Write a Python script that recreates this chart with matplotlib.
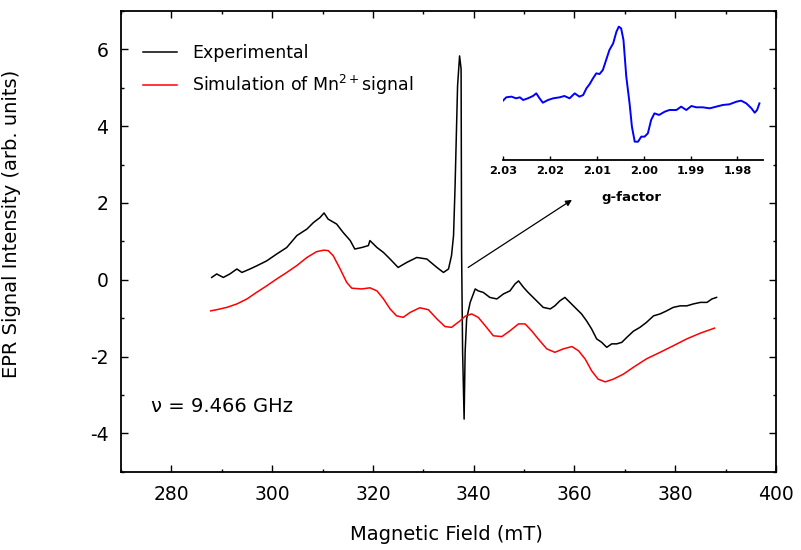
import matplotlib
matplotlib.use("Agg")
import matplotlib.pyplot as plt
from matplotlib.ticker import MultipleLocator, FixedLocator

plt.rcParams['font.family'] = ['DejaVu Sans']
plt.rcParams['mathtext.default'] = 'regular'
plt.rcParams['axes.unicode_minus'] = False

# Experimental EPR spectrum (magnetic field in mT, intensity in arb. units)
exp_field = [288.0, 289.0, 290.3, 291.6, 293.0, 294.0, 295.6, 296.9, 298.9, 300.9,
             302.9, 304.9, 306.9, 308.2, 309.5, 310.3, 311.1, 312.8, 314.1, 315.5,
             316.4, 317.8, 319.1, 319.4, 320.8, 322.1, 323.4, 325.0, 326.7, 328.7,
             330.7, 332.7, 334.0, 335.0, 335.6, 336.0, 336.3, 336.8, 337.2, 337.5,
             337.6, 337.8, 338.1, 338.3, 338.6, 339.3, 340.3, 340.9, 341.9, 343.2,
             344.6, 345.9, 347.2, 348.2, 348.9, 349.9, 350.8, 351.8, 352.8, 353.8,
             355.2, 356.1, 357.1, 358.1, 359.1, 360.4, 361.4, 362.4, 363.4, 364.4,
             365.4, 366.4, 367.4, 368.4, 369.4, 370.4, 371.7, 373.0, 374.3, 375.7,
             377.0, 378.3, 379.6, 381.0, 382.3, 383.6, 385.0, 386.3, 387.3, 388.2]
exp_signal = [0.06, 0.15, 0.06, 0.15, 0.28, 0.19, 0.28, 0.36, 0.49, 0.67,
              0.84, 1.15, 1.32, 1.49, 1.62, 1.74, 1.58, 1.45, 1.23, 1.02,
              0.80, 0.84, 0.89, 1.02, 0.84, 0.71, 0.54, 0.32, 0.45, 0.58,
              0.54, 0.32, 0.19, 0.28, 0.63, 1.15, 2.41, 5.05, 5.83, 5.49,
              0.71, -1.88, -3.63, -1.88, -1.02, -0.59, -0.24, -0.29, -0.33, -0.46,
              -0.50, -0.37, -0.29, -0.11, -0.03, -0.20, -0.33, -0.46, -0.59, -0.72,
              -0.76, -0.68, -0.55, -0.46, -0.59, -0.76, -0.89, -1.07, -1.28, -1.54,
              -1.63, -1.76, -1.67, -1.67, -1.63, -1.50, -1.34, -1.24, -1.11, -0.94,
              -0.89, -0.81, -0.72, -0.68, -0.68, -0.63, -0.59, -0.59, -0.50, -0.46]

# Simulated Mn2+ hyperfine sextet
sim_field = [287.8, 289.0, 291.0, 293.0, 295.0, 296.9, 298.9, 300.9, 302.9, 304.9,
             306.9, 308.8, 310.2, 311.1, 312.1, 313.5, 314.8, 315.8, 317.8, 319.4,
             320.8, 322.1, 323.4, 324.7, 326.0, 327.4, 329.3, 331.0, 332.7, 334.3,
             335.6, 337.3, 338.3, 339.6, 340.9, 342.3, 343.9, 345.6, 347.2, 348.9,
             350.2, 351.5, 352.8, 354.5, 356.1, 357.8, 359.5, 360.8, 362.1, 363.4,
             364.7, 366.1, 367.7, 369.7, 371.7, 374.3, 377.0, 379.6, 382.3, 385.0,
             387.8]
sim_signal = [-0.81, -0.78, -0.72, -0.63, -0.50, -0.33, -0.16, 0.02, 0.19, 0.37,
              0.58, 0.73, 0.77, 0.76, 0.63, 0.28, -0.07, -0.22, -0.24, -0.21,
              -0.29, -0.50, -0.76, -0.94, -0.98, -0.85, -0.73, -0.78, -1.02, -1.22,
              -1.24, -1.07, -0.95, -0.89, -0.98, -1.20, -1.46, -1.48, -1.33, -1.15,
              -1.15, -1.33, -1.54, -1.80, -1.89, -1.80, -1.74, -1.85, -2.06, -2.37,
              -2.59, -2.66, -2.59, -2.46, -2.28, -2.06, -1.89, -1.72, -1.54, -1.39,
              -1.26]

# Expanded view of the central line on a g-factor scale
g_factor = [2.0300, 2.0293, 2.0282, 2.0272, 2.0264, 2.0257, 2.0247, 2.0236, 2.0229, 2.0222,
            2.0215, 2.0204, 2.0193, 2.0179, 2.0169, 2.0158, 2.0147, 2.0137, 2.0129, 2.0122,
            2.0115, 2.0108, 2.0101, 2.0094, 2.0087, 2.0080, 2.0073, 2.0065, 2.0058, 2.0053,
            2.0048, 2.0043, 2.0037, 2.0030, 2.0025, 2.0019, 2.0012, 2.0005, 1.9998, 1.9991,
            1.9984, 1.9977, 1.9967, 1.9955, 1.9945, 1.9930, 1.9920, 1.9909, 1.9898, 1.9888,
            1.9874, 1.9859, 1.9845, 1.9831, 1.9817, 1.9802, 1.9792, 1.9781, 1.9770, 1.9763,
            1.9758, 1.9753]
g_signal = [-0.009, 0.037, 0.046, 0.023, 0.037, 0.0, 0.023, 0.055, 0.091, 0.023,
            -0.037, 0.0, 0.023, 0.037, 0.055, 0.023, 0.091, 0.046, 0.068, 0.160,
            0.219, 0.297, 0.365, 0.356, 0.411, 0.548, 0.685, 0.776, 0.936, 1.005,
            0.982, 0.822, 0.320, -0.046, -0.365, -0.571, -0.571, -0.502, -0.502, -0.457,
            -0.274, -0.183, -0.205, -0.160, -0.137, -0.137, -0.091, -0.137, -0.082, -0.100,
            -0.100, -0.114, -0.091, -0.068, -0.059, -0.023, -0.009, -0.046, -0.114, -0.174,
            -0.137, -0.046]

x_ticks = [280, 300, 320, 340, 360, 380, 400]
y_ticks = [-4, -2, 0, 2, 4, 6]
g_ticks = [2.03, 2.02, 2.01, 2.00, 1.99, 1.98]
g_ticklabels = ['2.03', '2.02', '2.01', '2.00', '1.99', '1.98']

fig = plt.figure(figsize=(8.01, 5.5), dpi=100)
ax = fig.add_axes([121 / 801, 1 - 471.7 / 550, 655 / 801, 460.7 / 550])

exp_line, = ax.plot(exp_field, exp_signal, color='black', lw=1.1,
                    label='Experimental')
sim_line, = ax.plot(sim_field, sim_signal, color='#ff0000', lw=1.1,
                    label='Simulation of Mn$^{2+}$signal')

ax.set_xlim(270, 400)
ax.set_ylim(-5, 7)
ax.set_xticks(x_ticks)
ax.set_yticks(y_ticks)
ax.xaxis.set_minor_locator(MultipleLocator(10))
ax.yaxis.set_minor_locator(MultipleLocator(1))
ax.tick_params(which='both', direction='in', top=True, right=True, width=1.0)
ax.tick_params(which='major', length=5, labelsize=13.5)
ax.tick_params(axis='x', which='major', pad=9.4)
ax.tick_params(axis='y', which='major', pad=9.0)
ax.tick_params(which='minor', length=2.2)
for sp in ax.spines.values():
    sp.set_linewidth(1.3)

ax.set_xlabel('Magnetic Field (mT)', fontsize=14)
ax.set_ylabel('EPR Signal Intensity (arb. units)', fontsize=14)
ax.xaxis.set_label_coords(0.497, -0.115)
ax.yaxis.set_label_coords(-0.152, 0.539)

ax.legend(handles=[exp_line, sim_line], loc='upper left',
          bbox_to_anchor=(0.0336, 0.928), frameon=False, fontsize=12.5,
          borderpad=0, borderaxespad=0, handlelength=1.95,
          handletextpad=0.86, labelspacing=0.6)

ax.text(276, -3.3, 'ν = 9.466 GHz', fontsize=14, va='center', ha='left')

ax.annotate('', xy=(359.5, 2.08), xytext=(338.9, 0.32),
            arrowprops=dict(arrowstyle='-|>', color='black', lw=0.9,
                            mutation_scale=9, shrinkA=0, shrinkB=0))

# Inset: g-factor expansion
ins = fig.add_axes([503 / 801, 1 - 160 / 550, 259.7 / 801, 140 / 550])
ins.plot(g_factor, g_signal, color='#0000ff', lw=1.4)
ins.set_xlim(2.03, 1.9746)
ins.set_ylim(-0.822, 1.096)
ins.patch.set_alpha(0)
for side in ('left', 'right', 'top'):
    ins.spines[side].set_visible(False)
ins.spines['bottom'].set_linewidth(1.3)
ins.set_yticks([])
ins.xaxis.set_major_locator(FixedLocator(g_ticks))
ins.set_xticklabels(g_ticklabels, fontsize=8.2, fontweight='bold')
ins.tick_params(axis='x', direction='in', length=3, width=1.0, pad=4.5)
ins.set_xlabel('g-factor', fontsize=9.5, fontweight='bold')
ins.xaxis.set_label_coords(0.495, -0.225)

fig.savefig('out.png', dpi=100)
